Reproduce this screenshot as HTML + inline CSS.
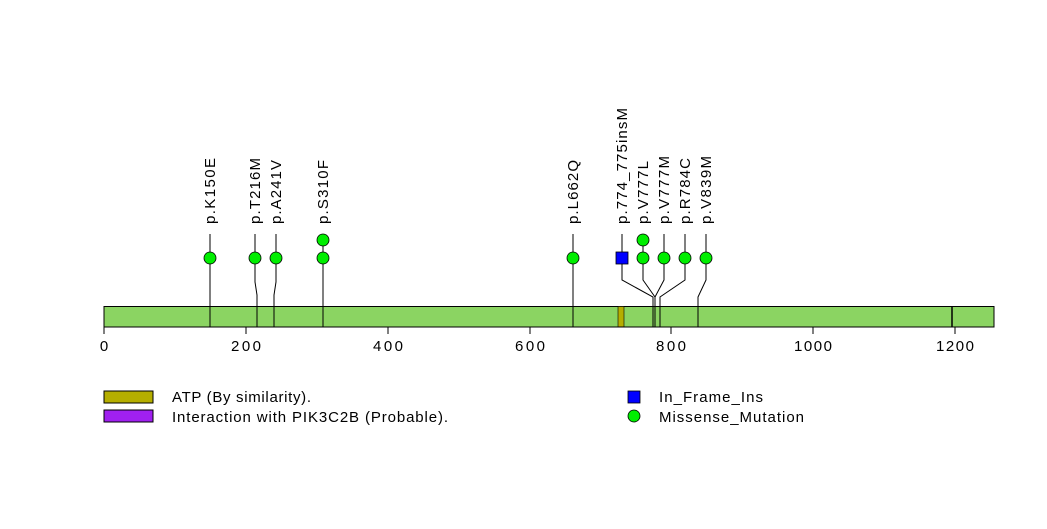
<!DOCTYPE html>
<html><head><meta charset="utf-8"><style>
html,body{margin:0;padding:0;background:#fff;}
svg text{font-family:"Liberation Sans",Arial,sans-serif;}
</style></head><body>
<svg width="1047" height="524" viewBox="0 0 1047 524" xmlns="http://www.w3.org/2000/svg">
<rect x="0" y="0" width="1047" height="524" fill="#fff"/>
<rect x="104" y="306.5" width="890" height="20.5" fill="#8bd462" stroke="#000" stroke-width="1"/>
<rect x="618" y="306.5" width="6" height="20.5" fill="#b5ae00" stroke="#000" stroke-width="0.6"/>
<line x1="952" y1="306.5" x2="952" y2="327" stroke="#000" stroke-width="1.5"/>
<g stroke="#000" stroke-width="1">
<line x1="104" y1="327" x2="955" y2="327"/>
<line x1="104" y1="327" x2="104" y2="334"/>
<line x1="246" y1="327" x2="246" y2="334"/>
<line x1="388" y1="327" x2="388" y2="334"/>
<line x1="530" y1="327" x2="530" y2="334"/>
<line x1="671" y1="327" x2="671" y2="334"/>
<line x1="813" y1="327" x2="813" y2="334"/>
<line x1="955" y1="327" x2="955" y2="334"/>
</g>
<g font-size="15" text-anchor="middle" fill="#000">
<text x="104" y="351">0</text>
<text x="246" y="351" textLength="30" lengthAdjust="spacing">200</text>
<text x="388" y="351" textLength="30" lengthAdjust="spacing">400</text>
<text x="530" y="351" textLength="30" lengthAdjust="spacing">600</text>
<text x="671" y="351" textLength="30" lengthAdjust="spacing">800</text>
<text x="813" y="351" textLength="38" lengthAdjust="spacing">1000</text>
<text x="955" y="351" textLength="38" lengthAdjust="spacing">1200</text>
</g>
<g stroke="#000" stroke-width="1" fill="none">
<polyline points="210,327 210,234"/>
<polyline points="257,327 257,295 255,282 255,234"/>
<polyline points="274,327 274,295 276,282 276,234"/>
<polyline points="323,327 323,234"/>
<polyline points="573,327 573,234"/>
<polyline points="653,327 653,297 622,280 622,234"/>
<polyline points="655,327 655,297 643,280 643,234"/>
<polyline points="655,327 655,297 664,280 664,234"/>
<polyline points="660,327 660,297 685,280 685,234"/>
<polyline points="698,327 698,297 706,280 706,234"/>
</g>
<g fill="#00ee00" stroke="#000" stroke-width="0.8">
<circle cx="210" cy="258" r="6"/>
<circle cx="255" cy="258" r="6"/>
<circle cx="276" cy="258" r="6"/>
<circle cx="323" cy="258" r="6"/>
<circle cx="323" cy="240" r="6"/>
<circle cx="573" cy="258" r="6"/>
<circle cx="643" cy="258" r="6"/>
<circle cx="643" cy="240" r="6"/>
<circle cx="664" cy="258" r="6"/>
<circle cx="685" cy="258" r="6"/>
<circle cx="706" cy="258" r="6"/>
</g>
<rect x="616" y="252" width="12" height="12" fill="#0000ff" stroke="#000" stroke-width="0.8"/>
<g font-size="15" fill="#000">
<text transform="translate(215,224) rotate(-90)" textLength="66" lengthAdjust="spacing">p.K150E</text>
<text transform="translate(260,224) rotate(-90)" textLength="66" lengthAdjust="spacing">p.T216M</text>
<text transform="translate(281,224) rotate(-90)" textLength="64" lengthAdjust="spacing">p.A241V</text>
<text transform="translate(328,224) rotate(-90)" textLength="64" lengthAdjust="spacing">p.S310F</text>
<text transform="translate(578,224) rotate(-90)" textLength="64" lengthAdjust="spacing">p.L662Q</text>
<text transform="translate(627,224) rotate(-90)" textLength="116" lengthAdjust="spacing">p.774_775insM</text>
<text transform="translate(648,224) rotate(-90)" textLength="63" lengthAdjust="spacing">p.V777L</text>
<text transform="translate(669,224) rotate(-90)" textLength="68" lengthAdjust="spacing">p.V777M</text>
<text transform="translate(690,224) rotate(-90)" textLength="66" lengthAdjust="spacing">p.R784C</text>
<text transform="translate(711,224) rotate(-90)" textLength="68" lengthAdjust="spacing">p.V839M</text>
</g>
<rect x="104" y="391" width="49" height="12" fill="#b5ae00" stroke="#000" stroke-width="1"/>
<rect x="104" y="410" width="49" height="12" fill="#a020f0" stroke="#000" stroke-width="1"/>
<g font-size="15" fill="#000">
<text x="172" y="402" textLength="139" lengthAdjust="spacing">ATP (By similarity).</text>
<text x="172" y="422" textLength="276" lengthAdjust="spacing">Interaction with PIK3C2B (Probable).</text>
<text x="659" y="402" textLength="104" lengthAdjust="spacing">In_Frame_Ins</text>
<text x="659" y="422" textLength="145" lengthAdjust="spacing">Missense_Mutation</text>
</g>
<rect x="628" y="391" width="12" height="12" fill="#0000ff" stroke="#000" stroke-width="0.8"/>
<circle cx="634" cy="416" r="6" fill="#00ee00" stroke="#000" stroke-width="0.8"/>
</svg>
</body></html>
